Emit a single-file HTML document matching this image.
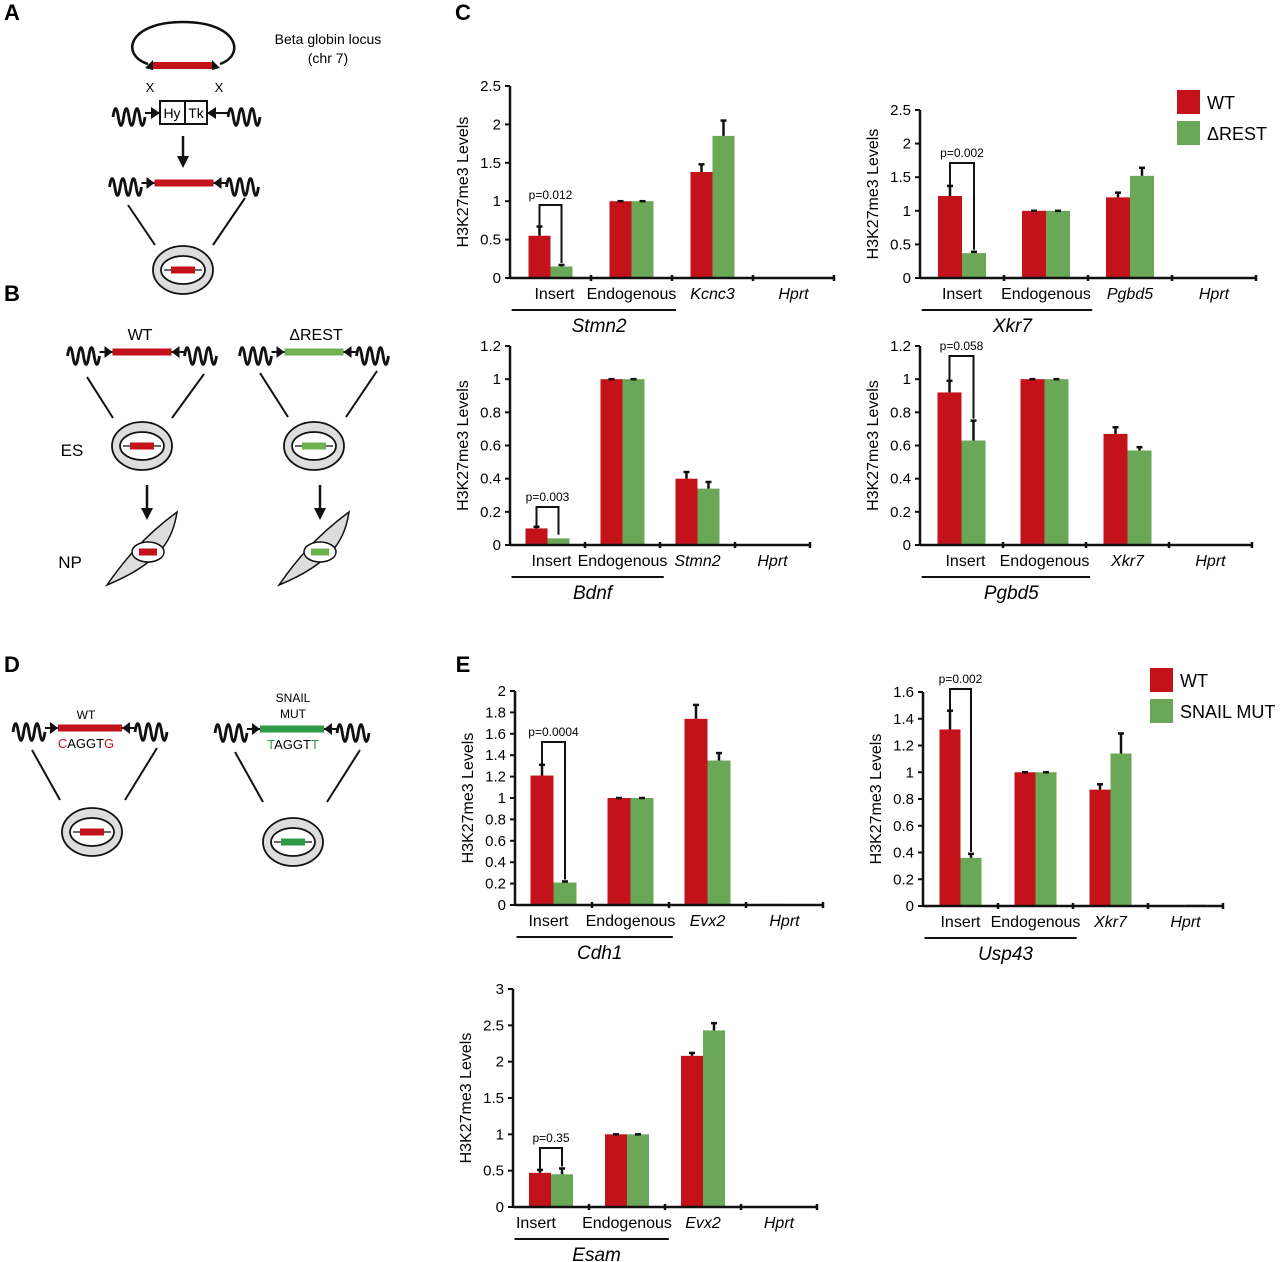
<!DOCTYPE html>
<html><head><meta charset="utf-8"><style>
html,body{margin:0;padding:0;background:#fff;}
svg{display:block;font-family:"Liberation Sans",Arial,sans-serif;}
</style></head><body>
<svg id="fig" width="1280" height="1262" viewBox="0 0 1280 1262" xmlns="http://www.w3.org/2000/svg">
<g id="diagrams"></g>
<g id="charts"></g>
</svg>
<script>
// ---------- chart data ----------
const stmn2Cats = ["Insert","Endogenous","Kcnc3","Hprt"];
const stmn2WT = [0.55,1,1.38,0];
const stmn2Mut = [0.15,1,1.85,0];
const stmn2ErrWT = [0.12,0,0.1,0];
const stmn2ErrMut = [0.02,0,0.2,0];
const stmn2Ticks = [0,0.5,1,1.5,2,2.5];

const xkr7Cats = ["Insert","Endogenous","Pgbd5","Hprt"];
const xkr7WT = [1.22,1,1.2,0];
const xkr7Mut = [0.37,1,1.52,0];
const xkr7ErrWT = [0.15,0,0.07,0];
const xkr7ErrMut = [0.02,0,0.12,0];
const xkr7Ticks = [0,0.5,1,1.5,2,2.5];

const bdnfCats = ["Insert","Endogenous","Stmn2","Hprt"];
const bdnfWT = [0.1,1,0.4,0];
const bdnfMut = [0.04,1,0.34,0];
const bdnfErrWT = [0.01,0,0.04,0];
const bdnfErrMut = [0.01,0,0.04,0];
const bdnfTicks = [0,0.2,0.4,0.6,0.8,1,1.2];

const pgbd5Cats = ["Insert","Endogenous","Xkr7","Hprt"];
const pgbd5WT = [0.92,1,0.67,0.005];
const pgbd5Mut = [0.63,1,0.57,0.005];
const pgbd5ErrWT = [0.07,0,0.04,0];
const pgbd5ErrMut = [0.12,0,0.02,0];
const pgbd5Ticks = [0,0.2,0.4,0.6,0.8,1,1.2];

const cdh1Cats = ["Insert","Endogenous","Evx2","Hprt"];
const cdh1WT = [1.21,1,1.74,0.01];
const cdh1Mut = [0.21,1,1.35,0];
const cdh1ErrWT = [0.1,0,0.13,0];
const cdh1ErrMut = [0.01,0,0.07,0];
const cdh1Ticks = [0,0.2,0.4,0.6,0.8,1,1.2,1.4,1.6,1.8,2];

const usp43Cats = ["Insert","Endogenous","Xkr7","Hprt"];
const usp43WT = [1.32,1,0.87,0];
const usp43Mut = [0.36,1,1.14,0.01];
const usp43ErrWT = [0.14,0,0.04,0];
const usp43ErrMut = [0.03,0,0.15,0];
const usp43Ticks = [0,0.2,0.4,0.6,0.8,1,1.2,1.4,1.6];

const esamCats = ["Insert","Endogenous","Evx2","Hprt"];
const esamWT = [0.47,1,2.08,0];
const esamMut = [0.45,1,2.43,0];
const esamErrWT = [0.04,0,0.04,0];
const esamErrMut = [0.08,0,0.1,0];
const esamTicks = [0,0.5,1,1.5,2,2.5,3];

const RED="#c4121a", GREEN="#6aa757";
const NS="http://www.w3.org/2000/svg";
function mk(parent,tag,attrs,text){const e=document.createElementNS(NS,tag);for(const k in attrs)e.setAttribute(k,attrs[k]);if(text!==undefined)e.textContent=text;parent.appendChild(e);return e;}

function chart(o){
  const g=mk(document.getElementById('charts'),'g',{});
  
  
  const max=o.ticks[o.ticks.length-1];
  const yS=v=>o.y0-(v/max)*(o.y0-o.yTop);
  const xC=i=>o.x0+o.catW*(i+0.5);
  const ya=mk(g,'line',{x1:o.x0,y1:o.yTop,x2:o.x0,y2:o.y0,stroke:'#111','stroke-width':2.5});
  
  
  o.ticks.forEach(t=>{
    mk(g,'line',{x1:o.x0-5,y1:yS(t),x2:o.x0,y2:yS(t),stroke:'#111','stroke-width':2});
    const tl=mk(g,'text',{x:o.x0-9,y:yS(t)+5,'text-anchor':'end','font-size':15},String(t));
    
    
  });
  const yt=mk(g,'text',{transform:`translate(${o.x0-42},${(o.y0+o.yTop)/2}) rotate(-90)`,'text-anchor':'middle','font-size':16},'H3K27me3 Levels');
  
  
  for(let i=0;i<o.cats.length;i++){
    [[o.wt,o.ew,RED,-1],[o.mut,o.em,GREEN,0]].forEach(([vals,errs,col,off])=>{
      const v=vals[i]; const x=xC(i)+off*o.barW;
      const b=mk(g,'rect',{x:x,y:yS(v),width:o.barW,height:Math.max(0,o.y0-yS(v)),fill:col});
      
      
      if(v>0.05){
        const cx=x+o.barW/2, top=yS(v+errs[i]);
        mk(g,'line',{x1:cx,y1:yS(v),x2:cx,y2:top,stroke:'#111','stroke-width':2.5});
        mk(g,'line',{x1:cx-3,y1:top,x2:cx+3,y2:top,stroke:'#111','stroke-width':2.5});
      }
    });
  }
  const xa=mk(g,'line',{x1:o.x0,y1:o.y0,x2:o.x0+o.catW*4,y2:o.y0,stroke:'#111','stroke-width':2.5});
  
  
  for(let i=1;i<=4;i++) mk(g,'line',{x1:o.x0+o.catW*i,y1:o.y0-3,x2:o.x0+o.catW*i,y2:o.y0+3,stroke:'#111','stroke-width':2.5});
  o.cats.forEach((c,i)=>{
    const t=mk(g,'text',{x:xC(i)+(i===0?o.insOff||0:0),y:o.y0+21,'text-anchor':'middle','font-size':16,'font-style':i>=2?'italic':'normal'},c);
    
    
  });
  mk(g,'line',{x1:xC(0)-o.catW*0.48,y1:o.y0+32,x2:xC(1)+o.catW*0.55,y2:o.y0+32,stroke:'#111','stroke-width':2});
  const gl=mk(g,'text',{x:xC(0)+o.catW*0.6,y:o.y0+54,'text-anchor':'middle','font-size':19,'font-style':'italic'},o.group);
  
  
  const rx=xC(0)-o.barW/2, gx=xC(0)+o.barW/2;
  const by=o.pY;
  mk(g,'polyline',{points:`${rx},${yS(o.wt[0]+o.ew[0])} ${rx},${by} ${gx},${by} ${gx},${yS(o.mut[0]+o.em[0])-2}`,fill:'none',stroke:'#111','stroke-width':2});
  const pt=mk(g,'text',{x:(rx+gx)/2,y:by-6,'text-anchor':'middle','font-size':12},o.p);
  
  
  if(o.legend){
    const [lx,ly,l1,l2]=o.legend;
    const lg=mk(g,'g',{});
    
    
    mk(lg,'rect',{x:lx,y:ly,width:23,height:24,fill:RED});
    mk(lg,'text',{x:lx+30,y:ly+19,'font-size':18},l1);
    mk(lg,'rect',{x:lx,y:ly+31,width:23,height:24,fill:GREEN});
    mk(lg,'text',{x:lx+30,y:ly+50,'font-size':18},l2);
  }
}

chart({name:'chart-stmn2',x0:510,y0:278,yTop:86,catW:81,barW:22,ticks:stmn2Ticks,cats:stmn2Cats,wt:stmn2WT,mut:stmn2Mut,ew:stmn2ErrWT,em:stmn2ErrMut,group:'Stmn2',p:'p=0.012',pY:205,insOff:4,legend:[1177,90,'WT','\u0394REST']});
chart({name:'chart-xkr7',x0:920,y0:278,yTop:110,catW:84,barW:24,ticks:xkr7Ticks,cats:xkr7Cats,wt:xkr7WT,mut:xkr7Mut,ew:xkr7ErrWT,em:xkr7ErrMut,group:'Xkr7',p:'p=0.002',pY:163,insOff:0});
chart({name:'chart-bdnf',x0:510,y0:545,yTop:346,catW:75,barW:22,ticks:bdnfTicks,cats:bdnfCats,wt:bdnfWT,mut:bdnfMut,ew:bdnfErrWT,em:bdnfErrMut,group:'Bdnf',p:'p=0.003',pY:507,insOff:4});
chart({name:'chart-pgbd5',x0:920,y0:545,yTop:346,catW:83,barW:24,ticks:pgbd5Ticks,cats:pgbd5Cats,wt:pgbd5WT,mut:pgbd5Mut,ew:pgbd5ErrWT,em:pgbd5ErrMut,group:'Pgbd5',p:'p=0.058',pY:356,insOff:4});
chart({name:'chart-cdh1',x0:515,y0:905,yTop:691,catW:77,barW:23,ticks:cdh1Ticks,cats:cdh1Cats,wt:cdh1WT,mut:cdh1Mut,ew:cdh1ErrWT,em:cdh1ErrMut,group:'Cdh1',p:'p=0.0004',pY:742,insOff:-5});
chart({name:'chart-usp43',x0:923,y0:906,yTop:692,catW:75,barW:21,ticks:usp43Ticks,cats:usp43Cats,wt:usp43WT,mut:usp43Mut,ew:usp43ErrWT,em:usp43ErrMut,group:'Usp43',p:'p=0.002',pY:689,insOff:0,legend:[1150,668,'WT','SNAIL MUT']});
chart({name:'chart-esam',x0:513,y0:1207,yTop:989,catW:76,barW:22,ticks:esamTicks,cats:esamCats,wt:esamWT,mut:esamMut,ew:esamErrWT,em:esamErrMut,group:'Esam',p:'p=0.35',pY:1148,insOff:-15});

// ---------- diagrams ----------
const D=document.getElementById('diagrams');
function squigD(x,y,w){let d=`M${x},${y+4}`;const s=w/6;for(let i=0;i<3;i++){d+=` q${s/2},-17 ${s},0 q${s/2},17 ${s},0`;}return d;}
function construct(cx,y,w,col,name){
  const g=mk(D,'g',{});
  
  
  const h=w/2;
  mk(g,'path',{d:squigD(cx-h-45,y,32),fill:'none',stroke:'#111','stroke-width':2.8});
  mk(g,'path',{d:squigD(cx+h+13,y,32),fill:'none',stroke:'#111','stroke-width':2.8});
  mk(g,'line',{x1:cx-h-13,y1:y,x2:cx-h,y2:y,stroke:'#111','stroke-width':2});
  mk(g,'path',{d:`M${cx-h-8},${y-6} L${cx-h},${y} L${cx-h-8},${y+6}Z`,fill:'#111'});
  mk(g,'line',{x1:cx+h,y1:y,x2:cx+h+13,y2:y,stroke:'#111','stroke-width':2});
  mk(g,'path',{d:`M${cx+h+8},${y-6} L${cx+h},${y} L${cx+h+8},${y+6}Z`,fill:'#111'});
  mk(g,'rect',{x:cx-h,y:y-3.5,width:w,height:7,fill:col});
}
function cell(cx,cy,col,name){
  const g=mk(D,'g',{});
  
  
  mk(g,'ellipse',{cx:cx,cy:cy,rx:30,ry:24,fill:'#ddd',stroke:'#111','stroke-width':1.8});
  mk(g,'ellipse',{cx:cx,cy:cy,rx:22,ry:14,fill:'#fff',stroke:'#111','stroke-width':1.8});
  mk(g,'line',{x1:cx-19,y1:cy,x2:cx+19,y2:cy,stroke:'#111','stroke-width':1.2});
  mk(g,'rect',{x:cx-12,y:cy-3.5,width:24,height:7,fill:col});
}
function npcell(cx,cy,col,name){
  const g=mk(D,'g',{});
  
  
  mk(g,'path',{d:`M${cx-41},${cy+33} C${cx-25},${cy+10} ${cx-5},${cy-15} ${cx+29},${cy-40} C${cx+25},${cy-15} ${cx+15},${cy+10} ${cx-41},${cy+33}Z`,fill:'#ddd',stroke:'#111','stroke-width':1.5});
  mk(g,'ellipse',{cx:cx,cy:cy,rx:16,ry:10,fill:'#fff',stroke:'#111','stroke-width':1.5});
  mk(g,'rect',{x:cx-9,y:cy-3.5,width:18,height:7,fill:col});
}
function line(x1,y1,x2,y2){mk(D,'line',{x1,y1,x2,y2,stroke:'#111','stroke-width':2});}
function down(x,y1,y2){mk(D,'line',{x1:x,y1:y1,x2:x,y2:y2-8,stroke:'#111','stroke-width':2.5});mk(D,'path',{d:`M${x-6},${y2-12} L${x},${y2} L${x+6},${y2-12}Z`,fill:'#111'});}
function txt(x,y,s,size,attrs,name){const t=mk(D,'text',Object.assign({x,y,'font-size':size,'text-anchor':'middle'},attrs||{}),s);return t;}

txt(12,20,'A',22,{'font-weight':'bold'},'panel-label-a');
txt(12,301,'B',22,{'font-weight':'bold'},'panel-label-b');
txt(463,20,'C',22,{'font-weight':'bold'},'panel-label-c');
txt(12,672,'D',22,{'font-weight':'bold'},'panel-label-d');
txt(463,672,'E',22,{'font-weight':'bold'},'panel-label-e');

// Panel A
mk(D,'path',{d:'M148,64 C120,55 128,22 183,22 C238,22 246,55 220,64',fill:'none',stroke:'#111','stroke-width':2.5});
mk(D,'rect',{x:153,y:62,width:59,height:7,fill:RED});
mk(D,'path',{d:'M145,68 L153,60 L153,70Z',fill:'#111'});
mk(D,'path',{d:'M220,68 L212,60 L212,70Z',fill:'#111'});
txt(150,92,'X',13,{},'x-mark');txt(219,92,'X',13,{},'x-mark');
txt(328,44,'Beta globin locus',14,{},'locus-label');txt(328,63,'(chr 7)',14,{},'locus-label');
mk(D,'path',{d:squigD(113,113,32),fill:'none',stroke:'#111','stroke-width':2.8});
mk(D,'path',{d:squigD(228,113,32),fill:'none',stroke:'#111','stroke-width':2.8});
mk(D,'line',{x1:145,y1:113,x2:160,y2:113,stroke:'#111','stroke-width':2});
mk(D,'path',{d:'M151,107 L160,113 L151,119Z',fill:'#111'});
mk(D,'line',{x1:207,y1:113,x2:228,y2:113,stroke:'#111','stroke-width':2});
mk(D,'path',{d:'M216,107 L207,113 L216,119Z',fill:'#111'});
mk(D,'rect',{x:160,y:101,width:47,height:23,fill:'#fff',stroke:'#111','stroke-width':2});
mk(D,'line',{x1:185,y1:101,x2:185,y2:124,stroke:'#111','stroke-width':2});
txt(172,118,'Hy',14,{},'hy-label');txt(196,118,'Tk',14,{},'tk-label');
down(183,136,168);
construct(184,183,59,RED,'construct-a');
line(128,205,155,245);line(245,198,213,245);
cell(183,270,RED,'cell-a');

// Panel B
txt(140,340,'WT',16,{},'wt-label');txt(316,340,'\u0394REST',16,{},'delta-rest-label');
construct(142,352,59,RED,'construct-wt');
construct(314,352,59,"#6db24f",'construct-rest');
line(87,377,113,418);line(204,374,172,418);
line(260,373,288,417);line(377,371,346,417);
cell(142,446,RED,'cell-es-wt');cell(314,446,"#6db24f",'cell-es-rest');
txt(72,456,'ES',17,{},'es-label');txt(70,568,'NP',17,{},'np-label');
down(147,485,520);down(320,485,520);
npcell(148,552,RED,'cell-np-wt');npcell(320,552,"#6db24f",'cell-np-rest');

// Panel D
txt(86,719,'WT',12,{},'wt-d-label');
construct(90,728,64,RED,'construct-d-wt');
const c1=txt(86,748,'',13,{},'wt-sequence');
c1.innerHTML='<tspan fill="'+RED+'">C</tspan>AGGT<tspan fill="'+RED+'">G</tspan>';
txt(293,702,'SNAIL',12,{},'snail-label');txt(293,718,'MUT',12,{},'mut-label');
construct(292,729,64,"#2e9a48",'construct-d-mut');
const c2=txt(293,749,'',13,{},'mut-sequence');
c2.innerHTML='<tspan fill="#2e9a48">T</tspan>AGGT<tspan fill="#2e9a48">T</tspan>';
line(32,750,60,800);line(157,748,125,800);
line(235,752,263,802);line(360,750,327,802);
cell(92,832,RED,'cell-d-wt');cell(293,842,"#2e9a48",'cell-d-mut');
</script>
</body></html>
